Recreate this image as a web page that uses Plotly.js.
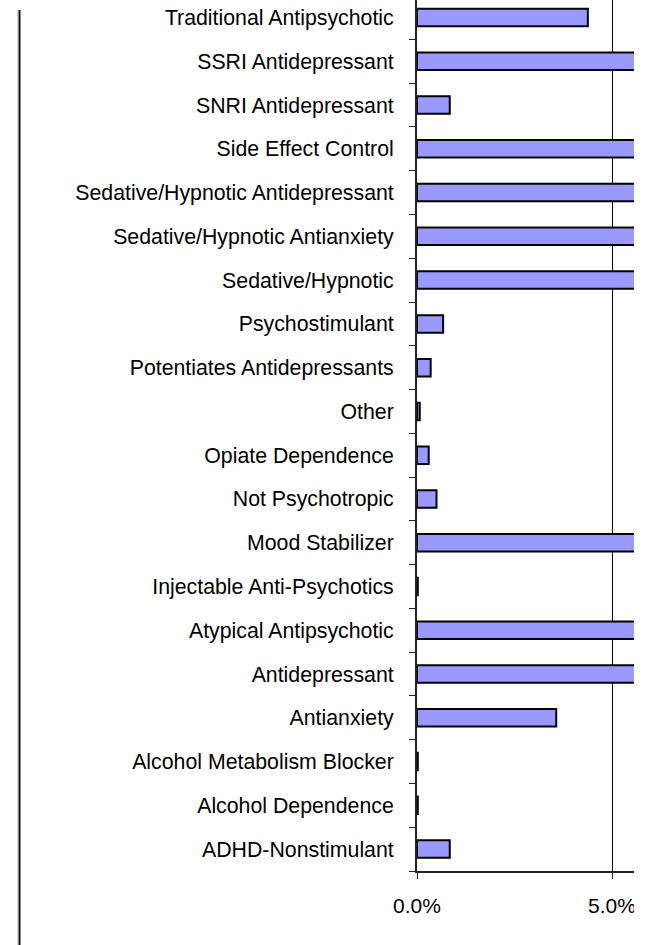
<!DOCTYPE html>
<html>
<head>
<meta charset="utf-8">
<script src="https://cdn.plot.ly/plotly-3.0.1.min.js"></script>
<style>html,body{margin:0;padding:0;background:#fff;}#chart{width:648px;height:945px;}</style>
</head>
<body>
<div id="chart"></div>
<script>
// Categories, bottom to top
var categories = [
  "ADHD-Nonstimulant",
  "Alcohol Dependence",
  "Alcohol Metabolism Blocker",
  "Antianxiety",
  "Antidepressant",
  "Atypical Antipsychotic",
  "Injectable Anti-Psychotics",
  "Mood Stabilizer",
  "Not Psychotropic",
  "Opiate Dependence",
  "Other",
  "Potentiates Antidepressants",
  "Psychostimulant",
  "Sedative/Hypnotic",
  "Sedative/Hypnotic Antianxiety",
  "Sedative/Hypnotic Antidepressant",
  "Side Effect Control",
  "SNRI Antidepressant",
  "SSRI Antidepressant",
  "Traditional Antipsychotic"
];
// Share of prescriptions (fraction). Bars running off the right edge are estimates.
var shares = [
  0.0084, 0.0002, 0.0002, 0.0357, 0.11, 0.20, 0.0002, 0.18, 0.0050, 0.0030,
  0.0007, 0.0035, 0.0067, 0.07, 0.12, 0.10, 0.08, 0.0084, 0.14, 0.0438
];
var xTickVals = [0, 0.05];

var trace = {
  type: "bar",
  orientation: "h",
  y: categories,
  x: shares,
  marker: { color: "#9999FF", line: { color: "#000000", width: 2 } },
  hoverinfo: "x+y"
};

var L = 417, R = 14, T = 0, B = 74;
var plotW = 648 - L - R, plotH = 945 - T - B;
function px2paperX(p) { return (p - L) / plotW; }
function px2paperY(p) { return (945 - B - p) / plotH; }

var layout = {
  width: 648,
  height: 945,
  margin: { l: L, r: R, t: T, b: B, pad: 0 },
  paper_bgcolor: "#ffffff",
  plot_bgcolor: "#ffffff",
  showlegend: false,
  bargap: 0.6,
  font: { family: "Liberation Sans, Arial, sans-serif", size: 21, color: "#000000" },
  xaxis: {
    range: [0, 0.05564],
    tickvals: xTickVals,
    tickformat: ".1%",
    showgrid: true,
    gridcolor: "#000000",
    gridwidth: 1,
    zeroline: false,
    showline: true,
    linecolor: "#222222",
    linewidth: 2,
    ticks: "outside",
    ticklen: 6,
    tickcolor: "#222222",
    tickwidth: 1,
    ticklabelstandoff: 9,
    tickfont: { family: "Liberation Sans, Arial, sans-serif", size: 21, color: "#000000" },
    fixedrange: true
  },
  yaxis: {
    type: "category",
    categoryorder: "array",
    categoryarray: categories,
    range: [-0.5, 19.4],
    showgrid: false,
    zeroline: false,
    showline: true,
    linecolor: "#222222",
    linewidth: 2,
    ticks: "outside",
    tickson: "boundaries",
    ticklen: 6,
    tickcolor: "#222222",
    tickwidth: 1,
    ticklabelstandoff: 17,
    tickfont: { family: "Liberation Sans, Arial, sans-serif", size: 21.3, color: "#000000" },
    fixedrange: true
  },
  shapes: [
    { type: "line", xref: "paper", yref: "paper",
      x0: px2paperX(17.5), x1: px2paperX(17.5), y0: px2paperY(10), y1: px2paperY(945),
      line: { color: "#d9d9d9", width: 1 } },
    { type: "line", xref: "paper", yref: "paper",
      x0: px2paperX(19.5), x1: px2paperX(19.5), y0: px2paperY(10), y1: px2paperY(945),
      line: { color: "#111111", width: 2 } },
    { type: "rect", xref: "paper", yref: "paper", layer: "above",
      x0: px2paperX(634), x1: px2paperX(650), y0: px2paperY(946), y1: px2paperY(-1),
      fillcolor: "#ffffff", line: { width: 0 } }
  ]
};

Plotly.newPlot("chart", [trace], layout, { displayModeBar: false, staticPlot: true });
</script>
</body>
</html>
